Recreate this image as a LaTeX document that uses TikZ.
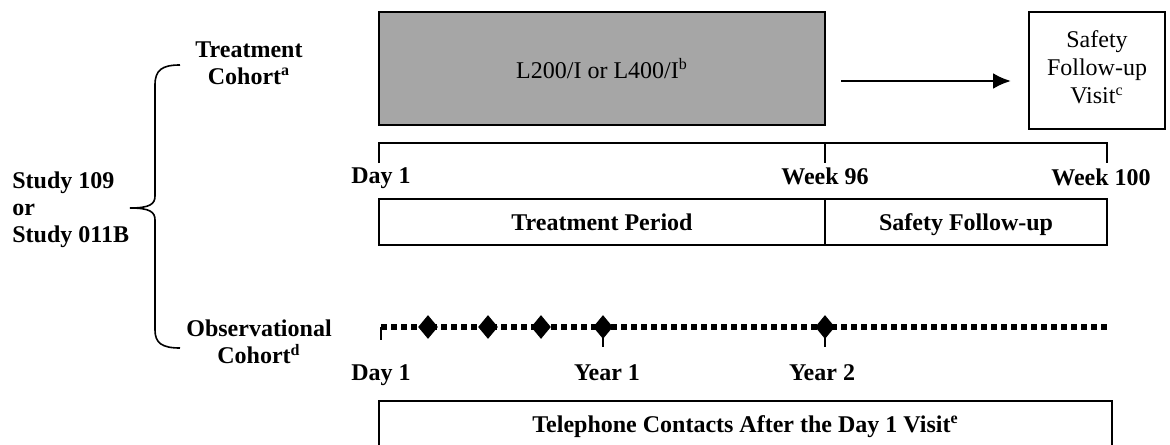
\documentclass[tikz,border=0pt]{standalone}
\usepackage{fontspec}
\setmainfont{Liberation Serif}
\usepackage{tikz}
\usetikzlibrary{shapes.geometric,arrows.meta}
\definecolor{drugfill}{RGB}{166,166,166}
\tikzstyle{txt} = [font=\fontsize{12}{13.5}\selectfont, inner sep=0]
\tikzstyle{lbl} = [font=\fontsize{12}{13.5}\selectfont\bfseries, inner sep=0]
\tikzstyle{one} = [lbl, text height=8pt, text depth=0pt]
\tikzstyle{box} = [draw, line width=1pt]
\tikzstyle{tl} = [line width=1.4pt]
\tikzstyle{dots} = [line width=2.6pt, dash pattern=on 3pt off 2pt]
\tikzstyle{gem} = [diamond, fill=black, inner sep=0, minimum width=10pt, minimum height=12pt]

\begin{document}
\begin{tikzpicture}[x=0.5pt,y=-0.5pt,post/.style={-{Latex[length=9pt,width=8pt]},line width=1.3pt}]
    \useasboundingbox (0,0) rectangle (1170,444);

    % treatment cohort
    \node[box, txt, fill=drugfill, minimum width=223pt, minimum height=56.5pt] (drug) at (602,68.5) {L200/I or L400/I\textsuperscript{b}};
    \node[box, txt, align=center, minimum width=68pt, minimum height=58.5pt] (visit) at (1097,70.5) {Safety\\[0.5pt]Follow-up\\[0.5pt]Visit\textsuperscript{c}\\[-10.5pt]};
    \draw[post, shorten <=7.5pt, shorten >=8.5pt] ([yshift=-6.25pt]drug.east) -- ([yshift=-5.25pt]visit.west);

    \draw[tl] (379,163) -- (379,143) -- (1107,143) -- (1107,163);
    \draw[tl] (825,143) -- (825,163);
    \node[one] (day1) at (381,175) {Day 1};
    \node[one] (wk96) at (825,176) {Week 96};
    \node[one] (wk100) at (1101,177) {Week 100};

    \node[box, one, minimum width=223pt, minimum height=23pt] (period) at (602,222) {Treatment Period};
    \node[box, one, minimum width=141pt, minimum height=23pt] (follow) at (966,222) {Safety Follow-up};

    % observational cohort
    \draw[dots] (381,327) -- (1110,327);
    \draw[tl] (381,327) -- (381,340);
    \draw[tl] (603,327) -- (603,347);
    \draw[tl] (825,327) -- (825,347);
    \foreach \x in {428,488,541,603,825}
        \node[gem] (call\x) at (\x,327) {};
    \node[one] (day1b) at (381,372) {Day 1};
    \node[one] (yr1) at (607,372) {Year 1};
    \node[one] (yr2) at (822,372) {Year 2};
    \node[box, one, minimum width=366.5pt, minimum height=23pt] (phone) at (745.5,424) {Telephone Contacts After the Day 1 Visit\textsuperscript{e}};

    % study and cohorts
    \node[lbl, align=left, anchor=west] (study) at (12,210) {Study 109\\or\\Study 011B};
    \node[lbl, align=center] (treat) at (249,63) {Treatment\\Cohort\textsuperscript{a}};
    \node[lbl, align=center] (obs) at (259,342) {Observational\\Cohort\textsuperscript{d}};

    \coordinate (tip) at (130,208);
    \coordinate (top) at (180,65);
    \coordinate (bot) at (180,348);
    \draw[line width=0.8pt] (top) .. controls (162,65) and (155,70) .. (155,85) -- (155,196)
        .. controls (155,204) and (150,208) .. (tip)
        .. controls (150,208) and (155,212) .. (155,220) -- (155,330)
        .. controls (155,343) and (162,348) .. (bot);

\end{tikzpicture}
\end{document}
